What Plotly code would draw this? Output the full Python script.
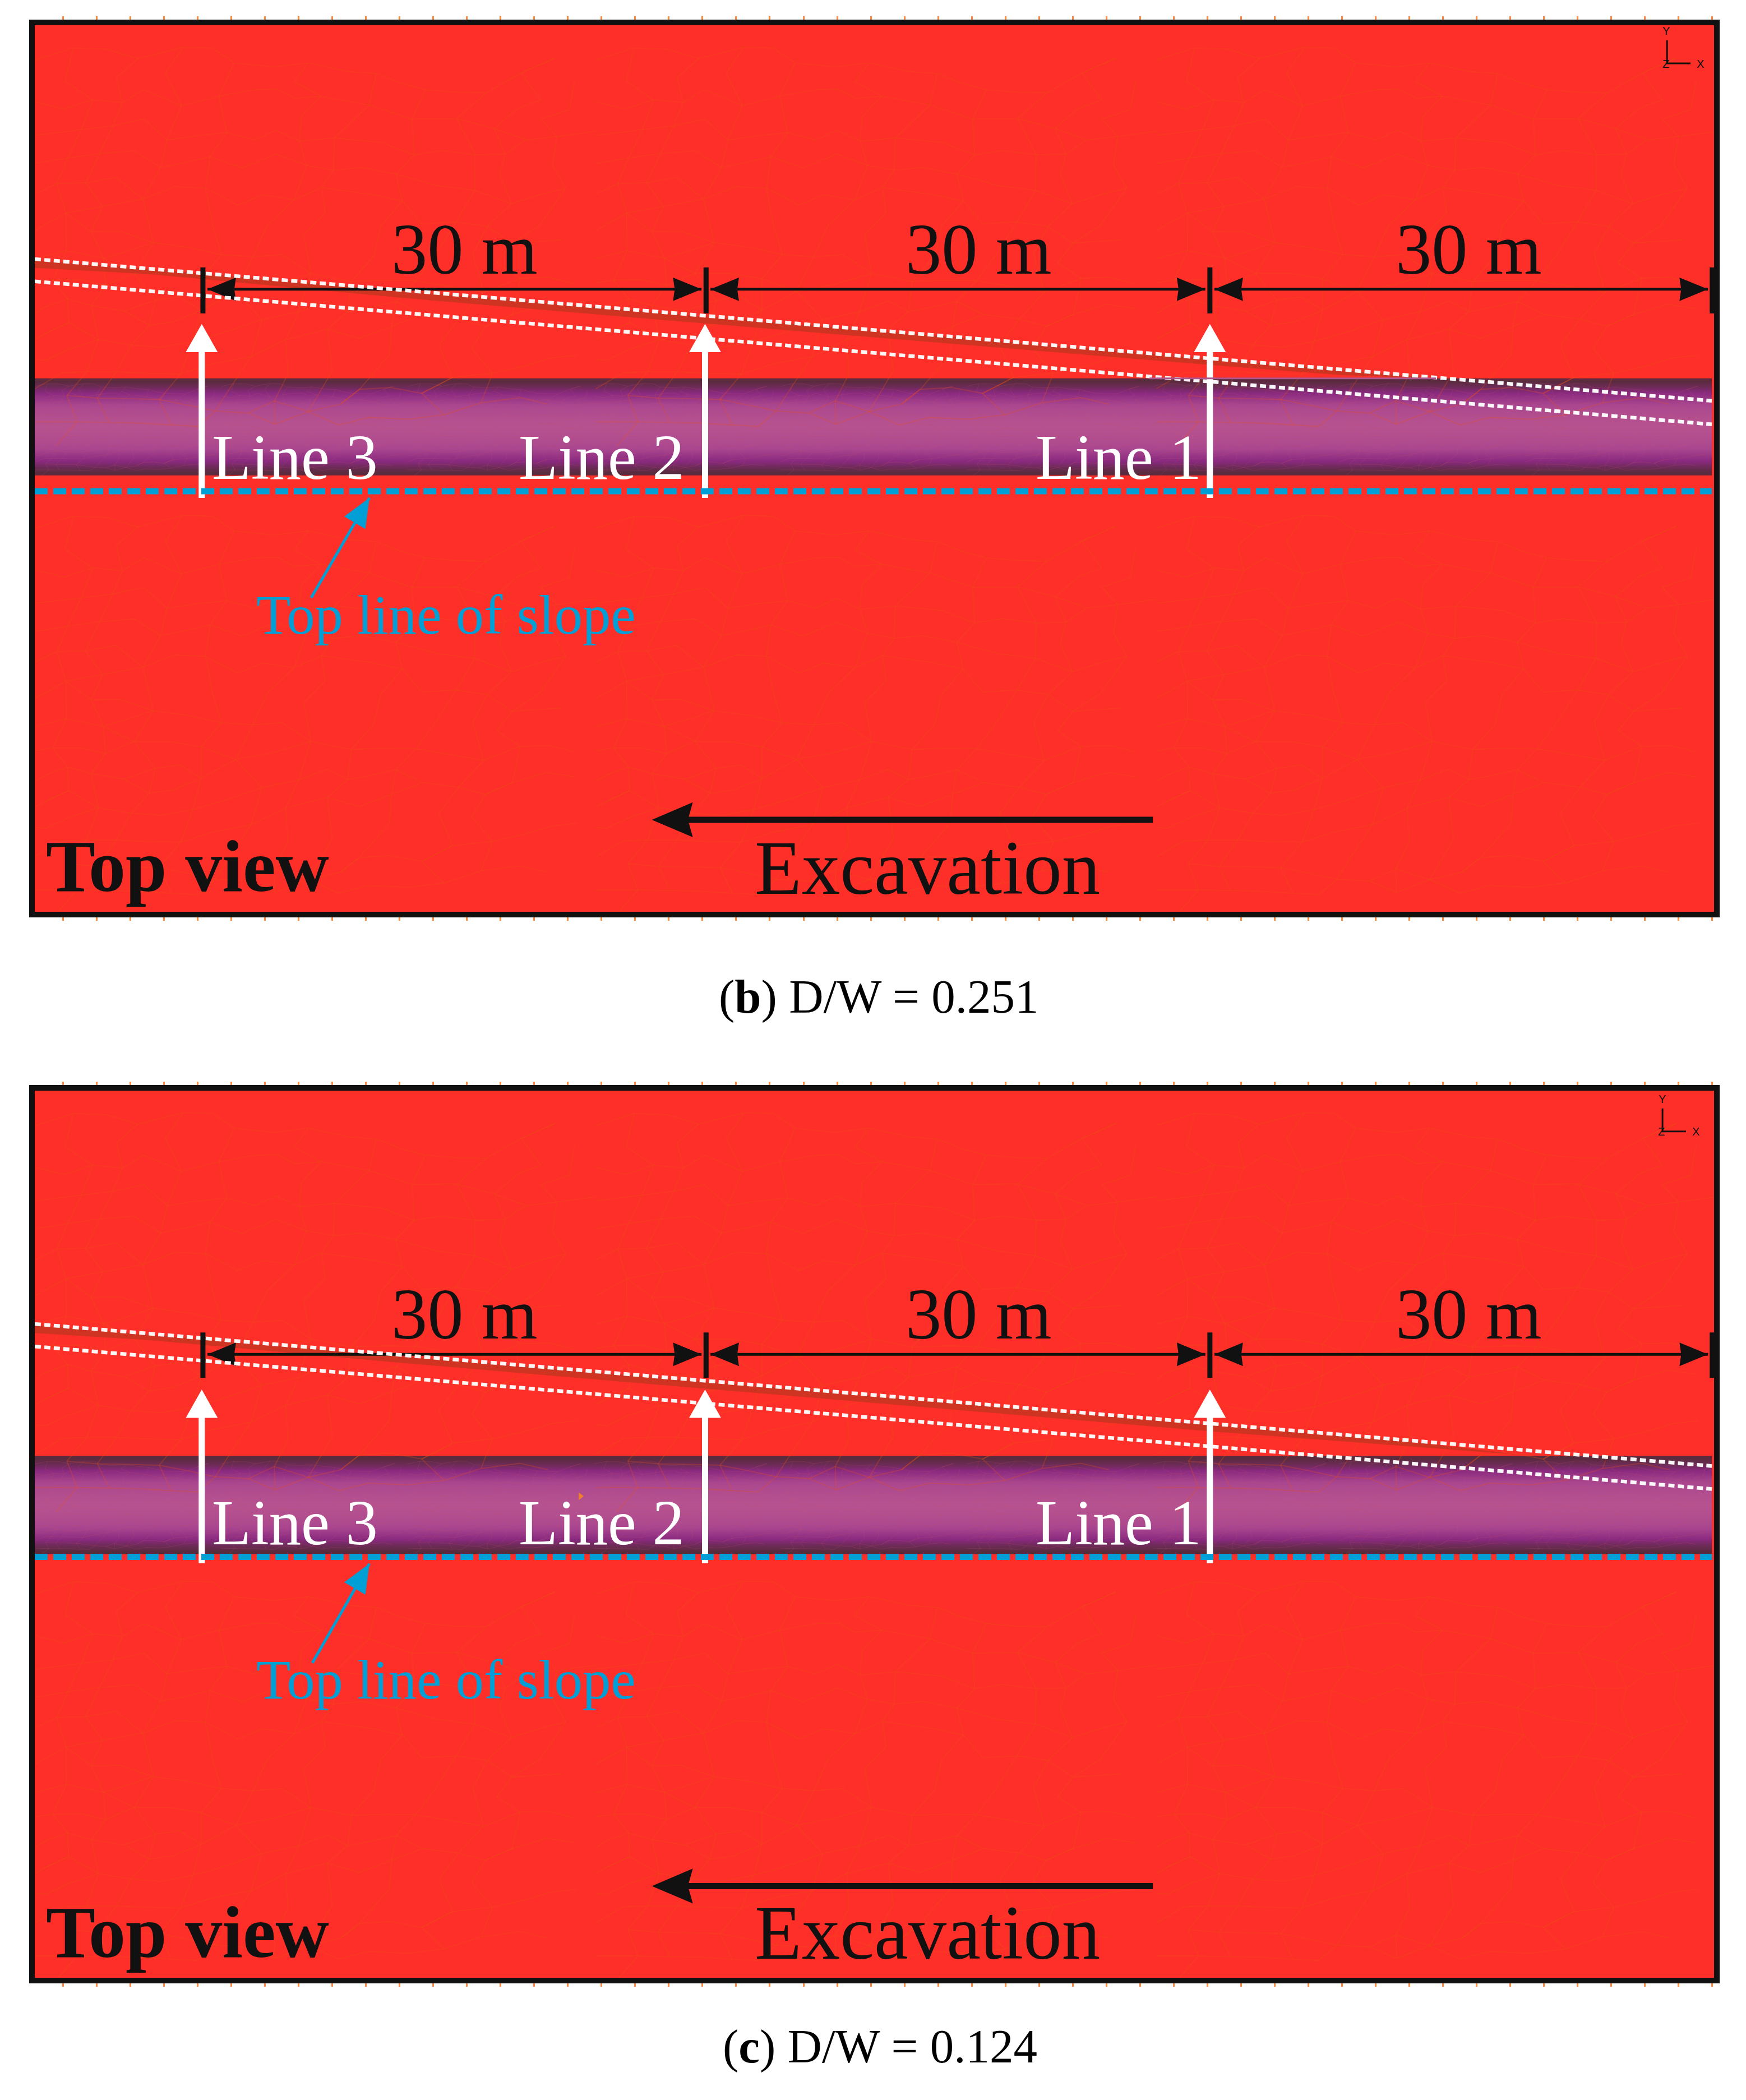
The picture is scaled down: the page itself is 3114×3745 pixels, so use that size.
import plotly.graph_objects as go

# page geometry: the browser body keeps its 8px margin, so the figure starts there
INSET = 8
FIG_W = 3098
FIG_H = 3725

PANEL_LEFT, PANEL_RIGHT = 62, 3057
PANEL_B_TOP, PANEL_B_BOTTOM = 45, 1626
PANEL_C_TOP, PANEL_C_BOTTOM = 1945, 3527

# axis ranges, metres: x from Line 3, y from the top line of slope
X_RANGE = [-10.02, 90.04]
Y_RANGE = [-25.06, 27.76]
PX_PER_M = 29.93
RULER_TICK = 60 / PX_PER_M

SERIF = "Liberation Serif"
SANS = "Liberation Sans"
INK = "#111111"
GROUND = "#fe2f29"
BLUE = "#009fd6"

# shared positions, metres
line_names = ["Line 3", "Line 2", "Line 1"]
arrow_x = [-0.07, 29.92, 60.0]
tick_x = [0.0, 29.98, 60.0, 89.93]
span_starts = [0.27, 30.24, 60.27]
span_ends = [29.71, 59.73, 89.68]
span_label_x = [15.60, 46.21, 75.44]
line_label_x = [5.48, 23.77, 54.55]
slope_label_x = 14.47
top_view_x = -0.93
excavation_x = 43.17
excavation_tip_x = 26.75
excavation_tail_x = 56.60
dash_x = [-10.02, 89.91]

# tube cross-section, from its upper edge to its lower edge
tube_shade = [0, .12, .3, .5, .7, .82, .9, .96, 1, .96, .9, .82, .7, .5, .3, .12, 0]
tube_colors = [[0, "#5a2b3e"], [.3, "#8a2a7f"], [.7, "#a8458f"], [1, "#b6528f"]]

# element mesh as read from one 1000x750 stretch of the lower ground,
# chains of nodes in crop units (x/1.568, y/2.09 gives pixels)
mesh_chains = [
    [(0, 130), (108, 85), (203, 90), (288, 125), (415, 82), (497, 85), (558, 140), (668, 155), (765, 140),
     (875, 172), (955, 180), (1022, 215), (1092, 240), (1180, 250), (1262, 252), (1360, 178), (1455, 122)],
    [(0, 285), (82, 312), (162, 278), (245, 288), (305, 240), (410, 300), (515, 265), (617, 240), (680, 238),
     (725, 272), (800, 265), (935, 297), (1055, 350), (1180, 348), (1285, 385), (1375, 428), (1460, 415), (1568, 395)],
    [(0, 410), (130, 390), (218, 375), (305, 350), (370, 428), (450, 412), (537, 400), (615, 428), (675, 392),
     (740, 432), (838, 420), (970, 437), (1060, 483), (1138, 467), (1232, 483), (1315, 480), (1372, 428)],
    [(0, 515), (92, 495), (182, 478), (278, 468), (352, 530), (420, 512), (490, 490), (580, 532), (675, 480),
     (760, 522), (835, 540), (915, 530), (1010, 555), (1125, 597), (1230, 615), (1333, 665), (1420, 628), (1485, 607)],
    [(0, 630), (62, 590), (142, 587), (228, 567), (302, 648), (392, 602), (478, 607), (567, 670), (638, 632),
     (725, 650), (802, 605), (870, 618), (948, 632), (1028, 655), (1082, 740), (1178, 733), (1265, 750), (1335, 812), (1472, 800)],
    [(0, 765), (87, 700), (190, 675), (302, 648)],
    [(87, 700), (158, 770), (240, 768), (330, 810), (432, 828), (522, 855), (610, 862), (692, 855), (772, 925),
     (885, 955), (980, 950), (1065, 952), (1155, 972), (1255, 995), (1358, 943), (1440, 940), (1505, 963)],
    [(0, 870), (88, 840), (192, 868), (258, 843), (330, 810)],
    [(192, 868), (278, 925), (378, 925), (465, 945), (562, 992), (670, 965), (772, 925)],
    [(0, 960), (50, 950), (128, 948), (198, 970), (278, 925)],
    [(0, 1075), (30, 1050), (92, 1020), (158, 1045), (250, 1065), (337, 1025), (405, 1012), (465, 1062), (562, 992)],
    [(250, 1065), (320, 1118), (388, 1105), (465, 1062)],
    [(0, 1170), (28, 1150), (95, 1108), (178, 1172), (270, 1192), (355, 1200), (442, 1178), (537, 1142), (635, 1097),
     (738, 1068), (818, 1028), (875, 1067), (943, 1050), (1010, 1030), (1085, 1078), (1185, 1095), (1260, 1122), (1335, 1078), (1432, 1040), (1512, 1057)],
    [(0, 1245), (30, 1248), (95, 1208), (178, 1172)],
    [(145, 1292), (228, 1292), (310, 1297), (408, 1300), (497, 1262), (605, 1235), (702, 1172), (818, 1133), (908, 1167), (998, 1122), (1085, 1078)],
    [(0, 1355), (78, 1295), (145, 1292)],
    [(90, 1380), (175, 1390), (262, 1392), (348, 1395), (425, 1415), (505, 1438), (597, 1445), (670, 1400), (765, 1440),
     (855, 1412), (908, 1357), (995, 1350), (1082, 1372), (1168, 1313), (1280, 1297), (1370, 1270), (1445, 1240), (1515, 1230)],
    [(0, 1478), (118, 1478), (208, 1480), (297, 1483), (382, 1490), (455, 1495), (505, 1438)],
    [(597, 1445), (672, 1487), (765, 1440), (850, 1490), (932, 1462), (1045, 1468), (1145, 1452), (1248, 1407), (1357, 1388), (1435, 1412)],
    [(108, 85), (85, 208), (162, 278), (130, 390), (92, 495), (62, 590), (87, 700), (88, 840), (50, 950), (92, 1020), (95, 1108), (28, 1150)],
    [(288, 125), (228, 195), (245, 288), (218, 375), (182, 478), (142, 587), (190, 675), (158, 770), (192, 868),
     (198, 970), (158, 1045), (178, 1172), (145, 1292), (90, 1380), (118, 1478), (60, 1568)],
    [(415, 82), (365, 178), (410, 300), (370, 428), (352, 530), (302, 648), (332, 810), (278, 925), (337, 1025),
     (320, 1118), (270, 1192), (228, 1292), (175, 1390), (208, 1480)],
    [(558, 140), (515, 265), (537, 400), (490, 490), (478, 607), (496, 740), (522, 855), (465, 945), (465, 1062),
     (442, 1178), (408, 1300), (348, 1395), (382, 1490)],
    [(765, 140), (725, 210), (800, 265), (745, 342), (740, 432), (760, 522), (725, 650), (650, 745), (610, 862),
     (562, 992), (635, 1097), (605, 1235), (548, 1348), (505, 1438)],
    [(955, 180), (935, 297), (838, 420), (835, 540), (802, 605), (812, 700), (752, 780), (772, 925), (738, 1068),
     (702, 1172), (708, 1300), (670, 1400), (672, 1487)],
    [(1092, 240), (1055, 350), (1060, 483), (1010, 555), (1028, 655), (968, 748), (948, 860), (885, 955), (875, 1067),
     (818, 1133), (832, 1288), (765, 1440)],
    [(1262, 252), (1180, 348), (1232, 483), (1230, 615), (1178, 733), (1122, 852), (1065, 952), (1010, 1030), (998, 1122),
     (992, 1228), (908, 1357), (855, 1412)],
    [(1455, 122), (1360, 178), (1415, 278), (1350, 310), (1285, 385), (1315, 480), (1300, 558), (1333, 665), (1265, 750),
     (1225, 852), (1255, 995), (1185, 1095), (1130, 1192), (1168, 1313), (1082, 1372), (1145, 1452)],
    [(1510, 205), (1495, 315), (1415, 350), (1460, 415), (1448, 522), (1485, 607), (1412, 745), (1335, 812), (1292, 885),
     (1358, 943), (1335, 1078), (1260, 1122), (1222, 1205), (1280, 1297), (1248, 1407)],
]

# panel (b) D/W = 0.251
upper_dash_b = [13.83, 5.38]
lower_dash_b = [12.50, 3.98]
tube_b = [6.72, 0.94]
sliver_x_b = [-10.02, -3.14, 11.76, 26.66, 60.0, 67.76, 73.47]
sliver_top_b = [13.77, 13.23, 11.96, 10.69, 7.89, 7.22, 6.72]
sliver_low_b = [13.30, 12.93, 11.53, 10.26, 7.52, 6.92, 6.72]
arrow_span_b = [9.96, -0.40]
span_y_b = 12.03
tick_span_b = [13.33, 10.59]
span_label_y_b = 13.00
line_label_y_b = 0.74
slope_label_y_b = -8.45
pointer_b = [[6.45, 9.92], [-6.35, -0.40]]
excavation_y_b = -19.58
top_view_y_b = -23.82
excavation_label_y_b = -23.96
triad_x_b = [87.24, 88.64]
triad_y_b = [26.86, 25.49]
triad_labels_b = [["Y", 87.17, 27.43], ["Z", 87.17, 25.46], ["X", 89.21, 25.46]]
edge_mark_b = 4.54
rim_x_b = [56.4, 73.47]
caption_b = "(<b>b</b>) D/W = 0.251"

# panel (c) D/W = 0.124
upper_dash_c = [13.87, 5.41]
lower_dash_c = [12.53, 4.04]
tube_c = [6.01, 0.17]
sliver_x_c = [-10.02, -3.14, 11.76, 26.66, 60.0, 71.33, 78.45]
sliver_top_c = [13.80, 13.23, 11.96, 10.73, 7.89, 6.95, 6.08]
sliver_low_c = [13.33, 12.90, 11.56, 10.29, 7.48, 6.62, 6.08]
arrow_span_c = [9.96, -0.37]
span_y_c = 12.06
tick_span_c = [13.36, 10.66]
span_label_y_c = 13.03
line_label_y_c = 0.77
slope_label_y_c = -8.42
pointer_c = [[6.52, 9.92], [-6.31, -0.40]]
excavation_y_c = -19.60
top_view_y_c = -23.82
excavation_label_y_c = -23.92
triad_x_c = [86.97, 88.37]
triad_y_c = [26.70, 25.33]
triad_labels_c = [["Y", 86.94, 27.26], ["Z", 86.90, 25.33], ["X", 88.94, 25.33]]
edge_mark_c = 4.58
speck_c = [22.49, 3.61]
caption_c = "(<b>c</b>) D/W = 0.124"

caption_x = [1567, 1569]
caption_baseline = [1806, 3678]

fig = go.Figure()
notes = []


def frac_x(px):
    return (px - INSET) / FIG_W


def frac_y(px):
    return 1 - (px - INSET) / FIG_H


def add_line(xs, ys, refs, color, width, dash=None, clip=True):
    fig.add_trace(go.Scatter(
        x=xs, y=ys, xaxis=refs[0], yaxis=refs[1], mode="lines", showlegend=False,
        hoverinfo="skip", cliponaxis=clip, connectgaps=False,
        line=dict(color=color, width=width, dash=dash),
    ))


def add_head(tip, back, half_width, refs, color, notch=0.0):
    """Filled arrowhead from its tip back along the shaft direction."""
    dx, dy = back[0] - tip[0], back[1] - tip[1]
    size = (dx * dx + dy * dy) ** 0.5
    nx, ny = -dy / size * half_width, dx / size * half_width
    xs = [tip[0], back[0] + nx, back[0] - notch * dx, back[0] - nx, tip[0]]
    ys = [tip[1], back[1] + ny, back[1] - notch * dy, back[1] - ny, tip[1]]
    fig.add_trace(go.Scatter(
        x=xs, y=ys, xaxis=refs[0], yaxis=refs[1], mode="lines", fill="toself",
        fillcolor=color, line=dict(color=color, width=0), showlegend=False,
        hoverinfo="skip",
    ))


def add_text(x, baseline, text, size, color, xref, yref):
    # anchor on the text box bottom, then drop by the font's descent
    notes.append(dict(
        x=x, y=baseline, xref=xref, yref=yref, text=text, showarrow=False,
        xanchor="center", yanchor="bottom", yshift=-0.216 * size - 2, borderpad=0,
        font=dict(family=SERIF, size=size, color=color),
    ))


def mesh_path(x_starts, y_starts, x_scale, y_scale):
    """Lay the read mesh stretch at each start, metres, with gaps between chains."""
    xs, ys = [], []
    for x0 in x_starts:
        for y0 in y_starts:
            for chain in mesh_chains:
                xs += [x0 + a / 1.568 * x_scale / PX_PER_M for a, _ in chain] + [None]
                ys += [y0 - b / 2.09 * y_scale / PX_PER_M for _, b in chain] + [None]
    return xs, ys


def draw_panel(suffix, upper, lower, tube, sliver_x, sliver_top, sliver_low,
               arrow_span, span_y, tick_span, span_label_y, line_label_y,
               slope_label_y, pointer, excavation_y, top_view_y, excavation_label_y,
               triad_x, triad_y, triad_labels, edge_mark):
    refs = ("x" + suffix, "y" + suffix)
    xref, yref = refs

    xs, ys = mesh_path([-10.02, 23.4, 56.8], [-0.13, 27.76], 1, 1)
    add_line(xs, ys, refs, "rgba(236,78,20,0.28)", 2)

    rows = len(tube_shade)
    step = (tube[0] - tube[1]) / rows
    fig.add_trace(go.Heatmap(
        x=[X_RANGE[0], 40.0, dash_x[1]],
        y=[tube[0] - step * i for i in range(rows + 1)],
        z=[[s, s] for s in tube_shade],
        colorscale=tube_colors, zmin=0, zmax=1, showscale=False, hoverinfo="skip",
        zsmooth="best", xaxis=xref, yaxis=yref,
    ))

    # finer mesh of the tube, the same stretch scaled down to the tube's depth
    tube_scale = (tube[0] - tube[1]) * PX_PER_M / 750
    starts = [X_RANGE[0] + 11.1 * i for i in range(9)]
    xs, ys = mesh_path(starts, [tube[0]], 1 / 3, tube_scale)
    add_line(xs, ys, refs, "rgba(205,80,105,0.2)", 1)

    fig.add_trace(go.Scatter(
        x=sliver_x + sliver_x[::-1], y=sliver_top + sliver_low[::-1],
        xaxis=xref, yaxis=yref, mode="lines", fill="toself", fillcolor="#cf3322",
        line=dict(width=0, color="#cf3322"), showlegend=False, hoverinfo="skip",
    ))

    for start, end in zip(span_starts, span_ends):
        add_line([start, end], [span_y, span_y], refs, INK, 5)
        add_head([start, span_y], [start + 1.70, span_y], 0.70, refs, INK, notch=0.06)
        add_head([end, span_y], [end - 1.70, span_y], 0.70, refs, INK, notch=0.06)

    add_line(dash_x, upper, refs, "rgba(255,255,255,0.96)", 6.5, "11px,6px")
    add_line(dash_x, lower, refs, "rgba(255,255,255,0.96)", 6.5, "11px,6px")

    for x in tick_x:
        add_line([x, x], tick_span, refs, INK, 9)

    for x in arrow_x:
        add_line([x, x], [arrow_span[0] - 1.6, arrow_span[1]], refs, "white", 11)
        add_head([x, arrow_span[0]], [x, arrow_span[0] - 1.68], 0.95, refs, "white")

    add_line([-10.02, 89.91], [0, 0], refs, BLUE, 11, "23px,10px")

    add_line(pointer[0], pointer[1], refs, BLUE, 5)
    add_head([pointer[0][1], pointer[1][1]],
             [pointer[0][1] - 0.87, pointer[1][1] - 1.48], 0.73, refs, BLUE)

    add_line([excavation_tip_x + 2.0, excavation_tail_x],
             [excavation_y, excavation_y], refs, INK, 11)
    add_head([excavation_tip_x, excavation_y],
             [excavation_tip_x + 2.44, excavation_y], 1.04, refs, INK, notch=0.12)

    add_line([triad_x[0], triad_x[0], triad_x[1]],
             [triad_y[0], triad_y[1], triad_y[1]], refs, INK, 3)
    add_line([X_RANGE[1], 90.74], [edge_mark, edge_mark], refs, INK, 3, clip=False)

    for name, x, y in triad_labels:
        notes.append(dict(
            x=x, y=y, xref=xref, yref=yref, text=name, showarrow=False,
            font=dict(family=SANS, size=20, color=INK),
        ))
    for x in span_label_x:
        add_text(x, span_label_y, "30 m", 128.5, INK, xref, yref)
    for x, name in zip(line_label_x, line_names):
        add_text(x, line_label_y, name, 114.5, "white", xref, yref)
    add_text(slope_label_x, slope_label_y, "Top line of slope", 100.5, BLUE, xref, yref)
    add_text(top_view_x, top_view_y, "<b>Top view</b>", 132, INK, xref, yref)
    add_text(excavation_x, excavation_label_y, "Excavation", 137, INK, xref, yref)


draw_panel("", upper_dash_b, lower_dash_b, tube_b, sliver_x_b, sliver_top_b, sliver_low_b,
           arrow_span_b, span_y_b, tick_span_b, span_label_y_b, line_label_y_b,
           slope_label_y_b, pointer_b, excavation_y_b, top_view_y_b, excavation_label_y_b,
           triad_x_b, triad_y_b, triad_labels_b, edge_mark_b)
draw_panel("2", upper_dash_c, lower_dash_c, tube_c, sliver_x_c, sliver_top_c, sliver_low_c,
           arrow_span_c, span_y_c, tick_span_c, span_label_y_c, line_label_y_c,
           slope_label_y_c, pointer_c, excavation_y_c, top_view_y_c, excavation_label_y_c,
           triad_x_c, triad_y_c, triad_labels_c, edge_mark_c)

# small one-off marks that only one panel has
add_line(rim_x_b, [tube_b[0], tube_b[0]], ("x", "y"), "#b0558c", 3)
fig.add_trace(go.Scatter(
    x=[speck_c[0]], y=[speck_c[1]], xaxis="x2", yaxis="y2", mode="markers",
    marker=dict(symbol="triangle-right", size=12, color="#f08030"),
    showlegend=False, hoverinfo="skip",
))

for x, baseline, caption in zip(caption_x, caption_baseline, [caption_b, caption_c]):
    add_text(frac_x(x), frac_y(baseline), caption, 85, "black", "paper", "paper")

x_style = dict(
    range=X_RANGE, domain=[frac_x(PANEL_LEFT), frac_x(PANEL_RIGHT)],
    showgrid=False, zeroline=False, showticklabels=False, showline=True,
    linecolor=INK, linewidth=10, mirror="ticks", ticks="outside", ticklen=6,
    tickwidth=3, tickcolor="#ff8a3c", tick0=89.91, dtick=RULER_TICK,
)
y_style = dict(
    range=Y_RANGE, showgrid=False, zeroline=False, showticklabels=False,
    showline=True, linecolor=INK, linewidth=10, mirror=True, ticks="",
)

fig.update_layout(
    width=FIG_W, height=FIG_H, autosize=False,
    margin=dict(l=0, r=0, t=0, b=0, pad=0),
    paper_bgcolor="white", plot_bgcolor=GROUND, showlegend=False,
    annotations=notes,
    xaxis=dict(x_style, anchor="y"),
    yaxis=dict(y_style, anchor="x",
               domain=[frac_y(PANEL_B_BOTTOM), frac_y(PANEL_B_TOP)]),
    xaxis2=dict(x_style, anchor="y2"),
    yaxis2=dict(y_style, anchor="x2",
                domain=[frac_y(PANEL_C_BOTTOM), frac_y(PANEL_C_TOP)]),
)

fig.write_html("out.html")
